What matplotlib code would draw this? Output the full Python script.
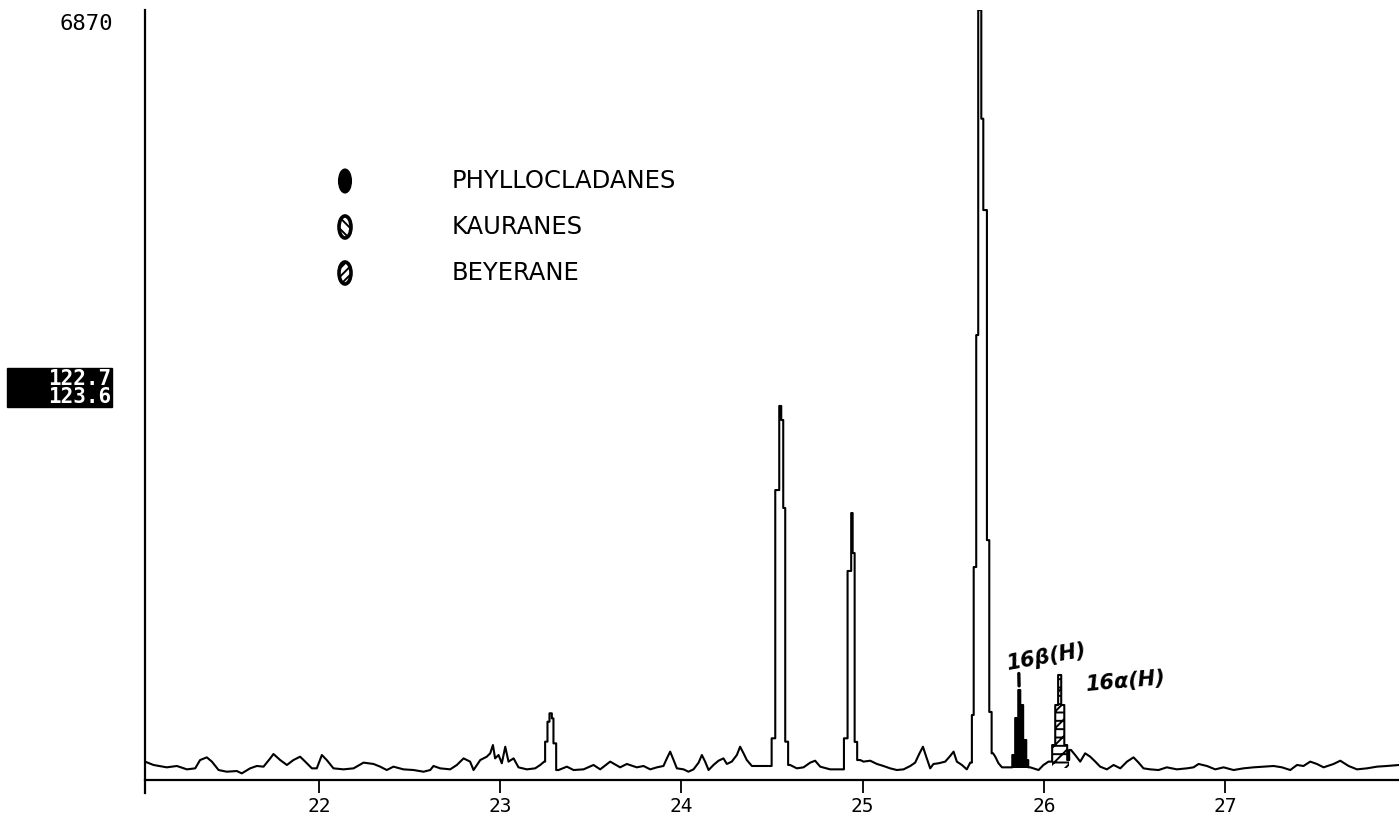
import numpy as np
import matplotlib
matplotlib.use("Agg")
import matplotlib.pyplot as plt
from matplotlib.patches import Ellipse, Rectangle

# retention time (min) and ion current for the background trace
base_t = [21.04, 21.087, 21.16, 21.216, 21.271, 21.317, 21.344, 21.381, 21.409, 21.446,
          21.491, 21.547, 21.574, 21.62, 21.657, 21.694, 21.731, 21.749, 21.786, 21.823,
          21.859, 21.896, 21.924, 21.961, 21.988, 22.016, 22.043, 22.08, 22.135, 22.191,
          22.246, 22.301, 22.338, 22.374, 22.411, 22.466, 22.522, 22.577, 22.614, 22.632,
          22.669, 22.724, 22.761, 22.798, 22.834, 22.853, 22.89, 22.926, 22.945, 22.96,
          22.972, 22.991, 23.009, 23.028, 23.046, 23.074, 23.101, 23.147, 23.193, 23.221,
          23.243,
          23.322, 23.368, 23.405, 23.46, 23.515, 23.552, 23.607, 23.662, 23.699, 23.754,
          23.791, 23.828, 23.865, 23.901, 23.92, 23.938, 23.957, 23.975, 24.012, 24.039,
          24.067, 24.095, 24.113, 24.131, 24.15, 24.177, 24.205, 24.232, 24.251, 24.278,
          24.306, 24.324, 24.343, 24.361, 24.389, 24.435, 24.486,
          24.6, 24.637, 24.674, 24.711, 24.738, 24.766, 24.821, 24.88,
          24.987, 25.005, 25.042, 25.079, 25.115, 25.152, 25.189, 25.226, 25.263, 25.29,
          25.314, 25.333, 25.351, 25.373, 25.391, 25.419, 25.456, 25.483, 25.502, 25.52,
          25.548, 25.575, 25.594,
          25.72, 25.732, 25.75, 25.769, 25.815,
          25.925, 25.971, 25.998, 26.026,
          26.15, 26.173, 26.201, 26.228, 26.256, 26.284, 26.311, 26.348, 26.385, 26.422,
          26.459, 26.495, 26.523, 26.55, 26.587, 26.633, 26.679, 26.734, 26.79, 26.826,
          26.854, 26.9, 26.946, 26.992, 27.047, 27.102, 27.157, 27.213, 27.268, 27.314,
          27.36, 27.397, 27.433, 27.47, 27.507, 27.544, 27.599, 27.636, 27.682, 27.728,
          27.783, 27.838, 27.893, 27.961]
base_i = [164, 134, 113, 125, 95, 104, 178, 202, 164, 89,
          74, 80, 59, 104, 125, 119, 193, 232, 178, 134,
          178, 208, 164, 104, 104, 223, 178, 104, 95, 104,
          155, 143, 119, 89, 119, 95, 89, 74, 89, 125,
          104, 95, 134, 193, 164, 89, 178, 208, 238, 312,
          193, 223, 149, 297, 164, 193, 113, 95, 104, 134,
          164,
          89, 119, 89, 95, 134, 95, 164, 113, 143, 113,
          125, 95, 113, 125, 193, 253, 178, 104, 95, 74,
          95, 155, 223, 164, 89, 134, 172, 193, 143, 164,
          223, 297, 238, 178, 125, 125, 125,
          134, 104, 113, 155, 172, 119, 95, 95,
          178, 164, 172, 143, 125, 104, 89, 95, 125, 155,
          238, 297, 208, 104, 143, 149, 164, 214, 253, 164,
          134, 95, 155,
          238, 208, 149, 113, 113,
          113, 89, 134, 164,
          268, 223, 164, 238, 208, 164, 119, 95, 134, 104,
          164, 202, 155, 104, 95, 89, 113, 95, 104, 113,
          143, 125, 95, 113, 89, 104, 113, 119, 125, 113,
          89, 134, 125, 164, 143, 113, 143, 172, 125, 95,
          104, 119, 125, 134]

# peaks, stored as scan edges and the level held between them
p1_edges = [23.248, 23.261, 23.272, 23.285, 23.294, 23.309]
p1_vals = [342, 520, 595, 550, 327]

pa_edges = [24.498, 24.518, 24.540, 24.551, 24.562, 24.573, 24.589]
pa_vals = [372, 2587, 3337, 3212, 2427, 342]

pb_edges = [24.897, 24.917, 24.937, 24.945, 24.956, 24.970]
pb_vals = [372, 1865, 2382, 2025, 340]

pc_edges = [25.603, 25.613, 25.627, 25.638, 25.655, 25.666, 25.686, 25.699, 25.712]
pc_vals = [580, 1900, 3970, 6870, 5900, 5085, 2140, 607]

beta_edges = [25.826, 25.842, 25.859, 25.870, 25.886, 25.903, 25.914]
beta_vals = [223, 553, 803, 669, 357, 178]

alpha_edges = [26.046, 26.063, 26.079, 26.096, 26.113, 26.129, 26.140]
alpha_vals = [312, 669, 937, 669, 312, 178]

xticks = [22, 23, 24, 25, 26, 27]
legend_names = ["PHYLLOCLADANES", "KAURANES", "BEYERANE"]
full_scale = 6870
mass_window = ["122.7", "123.6"]


def step_path(edges, vals, left, right):
    xs, ys = [edges[0]], [left]
    for i, v in enumerate(vals):
        xs += [edges[i], edges[i + 1]]
        ys += [v, v]
    xs.append(edges[-1])
    ys.append(right)
    return xs, ys


bt = np.array(base_t)
bi = np.array(base_i)
assert len(bt) == len(bi)

peaks = [(p1_edges, p1_vals), (pa_edges, pa_vals), (pb_edges, pb_vals),
         (pc_edges, pc_vals), (beta_edges, beta_vals), (alpha_edges, alpha_vals)]

tx, ty = [], []
start = -np.inf
for edges, vals in peaks:
    m = (bt > start) & (bt < edges[0])
    tx += bt[m].tolist()
    ty += bi[m].tolist()
    after = bi[bt > edges[-1]][0]
    sx, sy = step_path(edges, vals, ty[-1], after)
    tx += sx
    ty += sy
    start = edges[-1]
m = bt > start
tx += bt[m].tolist()
ty += bi[m].tolist()

W, H = 1399, 817
plt.rcParams["hatch.linewidth"] = 1.4
fig = plt.figure(figsize=(W / 100, H / 100), dpi=100)
ax = fig.add_axes([145 / W, 1 - 793 / H, (W - 145) / W, 783 / H])

ax.plot(tx, ty, color="black", lw=1.5)
ax.stairs(beta_vals, beta_edges, baseline=110, fill=True, color="black")
ax.stairs(alpha_vals, alpha_edges, baseline=110, fill=True, facecolor="none",
          edgecolor="black", hatch="--//", lw=0)

ax.set_xlim(21.04, 27.96)
ax.set_ylim(-116, full_scale)
ax.spines["top"].set_visible(False)
ax.spines["right"].set_visible(False)
ax.spines["bottom"].set_position(("data", 0))
ax.spines["bottom"].set_linewidth(1.6)
ax.spines["left"].set_linewidth(1.6)
ax.set_yticks([])
ax.set_xticks(xticks)
ax.set_xticklabels([str(v) for v in xticks], family="DejaVu Sans Mono", fontsize=14)
ax.tick_params(axis="x", direction="out", length=9.5, width=1.3, pad=3)

fig.text(113 / W, 1 - 24 / H, str(full_scale), ha="right", va="center",
         family="DejaVu Sans Mono", fontsize=16)

# mass window readout, white on black
fig.add_artist(Rectangle((7 / W, 1 - 407 / H), 105 / W, 39 / H,
                         transform=fig.transFigure, facecolor="black",
                         edgecolor="black"))
fig.text(111 / W, 1 - 388 / H, "\n".join(mass_window), ha="right", va="center",
         color="white", family="DejaVu Sans Mono", fontweight="bold",
         fontsize=15, linespacing=0.86)

# key for the compound classes
hatches = [None, "\\\\\\", "////"]
for k, (name, hatch) in enumerate(zip(legend_names, hatches)):
    yc = 1 - (181 + 46 * k) / H
    if hatch is None:
        e = Ellipse((345 / W, yc), 12 / W, 23 / H, transform=fig.transFigure,
                    facecolor="black", edgecolor="black", lw=1.5)
    else:
        e = Ellipse((345 / W, yc), 12 / W, 22 / H, transform=fig.transFigure,
                    facecolor="white", edgecolor="black", lw=2.6, hatch=hatch)
    fig.add_artist(e)
    fig.text(452 / W, yc, name, ha="left", va="center", fontsize=17.5,
             family="DejaVu Sans")

# hand labels on the two small peaks
ax.text(26.013, 1095, "16β(H)", rotation=10, ha="center", va="center",
        style="italic", fontweight="bold", fontsize=15)
ax.text(26.449, 874, "16α(H)", rotation=5, ha="center", va="center",
        style="italic", fontweight="bold", fontsize=15)
ax.annotate("", xy=(25.864, max(beta_vals)), xytext=(25.862, 950),
            arrowprops=dict(arrowstyle="-", lw=2.4, shrinkA=0, shrinkB=3))

fig.savefig("out.png", dpi=100)
